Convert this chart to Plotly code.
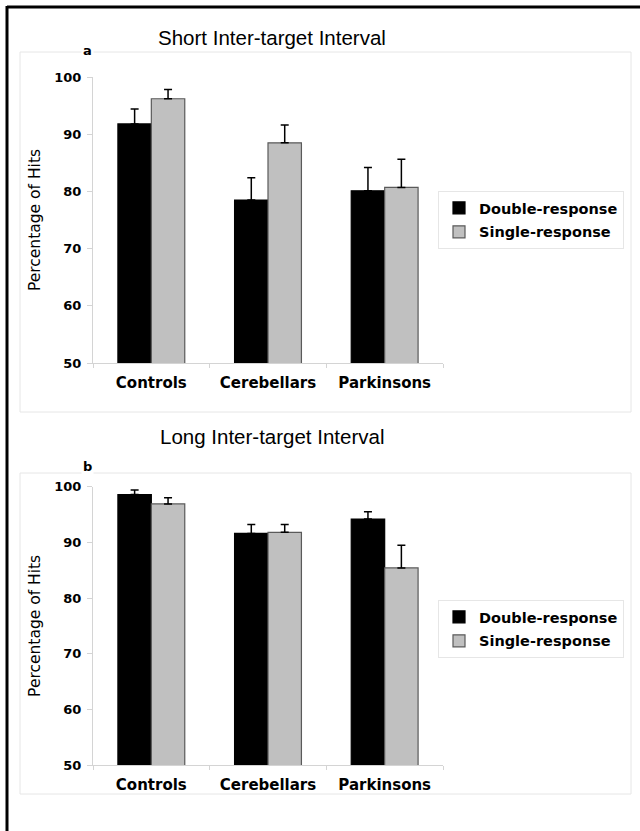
import plotly.graph_objects as go

# ---- data -------------------------------------------------------------
groups = ["Controls", "Cerebellars", "Parkinsons"]
series_names = ["Double-response", "Single-response"]

short_double = [91.8, 78.5, 80.1]
short_double_err = [2.6, 3.9, 4.1]
short_single = [96.2, 88.5, 80.7]
short_single_err = [1.6, 3.1, 4.9]

long_double = [98.6, 91.6, 94.2]
long_double_err = [0.8, 1.6, 1.3]
long_single = [96.9, 91.8, 85.4]
long_single_err = [1.1, 1.4, 4.1]

y_ticks = [50, 60, 70, 80, 90, 100]

# ---- page geometry (pixels) -------------------------------------------
W, H = 640, 831


def px(x):
    return x / W


def py(y):
    return 1 - y / H


BOLD = dict(family="DejaVu Sans", size=13, color="black", weight="bold")
AXIS_GREY = "#d4d4d4"
FILL = {"Double-response": "#000000", "Single-response": "#c0c0c0"}
EDGE = {"Double-response": "#000000", "Single-response": "#5a5a5a"}

fig = go.Figure()

panels = [
    ("x", "y", "legend", [(short_double, short_double_err), (short_single, short_single_err)]),
    ("x2", "y2", "legend2", [(long_double, long_double_err), (long_single, long_single_err)]),
]

for xa, ya, leg, pairs in panels:
    for i, (name, (vals, errs)) in enumerate(zip(series_names, pairs)):
        fig.add_trace(go.Bar(
            x=groups, y=vals, name=name, xaxis=xa, yaxis=ya,
            legend=leg, legendgroup=f"{leg}-{i}",
            marker=dict(color=FILL[name], line=dict(color=EDGE[name], width=1.2)),
            error_y=dict(type="data", symmetric=False, array=errs,
                         arrayminus=[0] * len(errs), color="black",
                         thickness=1.5, width=4),
        ))

xaxis_common = dict(
    showline=True, linecolor=AXIS_GREY, linewidth=1, automargin=False,
    ticks="outside", tickson="boundaries", ticklen=4, tickcolor=AXIS_GREY,
    tickfont=dict(family="DejaVu Sans", size=15, color="black", weight="bold"),
    showgrid=False, zeroline=False, ticklabelstandoff=6,
)
yaxis_common = dict(
    range=[50, 100], tickvals=y_ticks, showline=True, linecolor=AXIS_GREY,
    linewidth=1, ticks="outside", ticklen=5, tickcolor=AXIS_GREY, automargin=False,
    tickfont=BOLD, showgrid=False, zeroline=False, ticklabelstandoff=3,
    title=dict(text="Percentage of Hits", standoff=9,
               font=dict(family="DejaVu Sans", size=15.5, color="black")),
)

legend_style = dict(
    xanchor="left", yanchor="top", bgcolor="white", bordercolor="#e6e6e6",
    borderwidth=1, tracegroupgap=2,
    font=dict(family="DejaVu Sans", size=14.5, color="black", weight="bold"),
)

fig.update_layout(
    width=W, height=H, margin=dict(l=0, r=0, t=0, b=0, pad=0, autoexpand=False),
    paper_bgcolor="white", plot_bgcolor="white",
    bargap=0.427, bargroupgap=0, barmode="group",
    xaxis=dict(domain=[px(93), px(443)], anchor="y", **xaxis_common),
    yaxis=dict(domain=[py(363), py(77)], anchor="x", **yaxis_common),
    xaxis2=dict(domain=[px(93), px(443)], anchor="y2", **xaxis_common),
    yaxis2=dict(domain=[py(765), py(486.7)], anchor="x2", **yaxis_common),
    legend=dict(x=px(438), y=py(191), **legend_style),
    legend2=dict(x=px(438), y=py(600), **legend_style),
    showlegend=True,
)

# chart-area frames and outer border
shapes = [
    dict(type="rect", xref="paper", yref="paper", x0=px(20), x1=px(631),
         y0=py(412), y1=py(52), line=dict(color="#e6e6e6", width=1), layer="below"),
    dict(type="rect", xref="paper", yref="paper", x0=px(20), x1=px(631),
         y0=py(794), y1=py(473), line=dict(color="#e6e6e6", width=1), layer="below"),
    dict(type="line", xref="paper", yref="paper", x0=px(7), x1=px(660),
         y0=py(7), y1=py(7), line=dict(color="black", width=3)),
    dict(type="line", xref="paper", yref="paper", x0=px(7), x1=px(7),
         y0=py(6), y1=py(850), line=dict(color="black", width=3)),
]
fig.update_layout(shapes=shapes)

annotations = [
    dict(text="Short Inter-target Interval", x=px(272), y=py(37)),
    dict(text="Long Inter-target Interval", x=px(272), y=py(437)),
]
for a in annotations:
    a.update(xref="paper", yref="paper", showarrow=False, xanchor="center",
             yanchor="middle", font=dict(family="Liberation Sans", size=20.5, color="black"))
    fig.add_annotation(**a)

for letter, yy in [("a", 50), ("b", 466)]:
    fig.add_annotation(text=letter, x=px(87), y=py(yy), xref="paper", yref="paper",
                       showarrow=False, xanchor="center", yanchor="middle",
                       bgcolor="white", font=BOLD)

fig.write_html("out.html")
